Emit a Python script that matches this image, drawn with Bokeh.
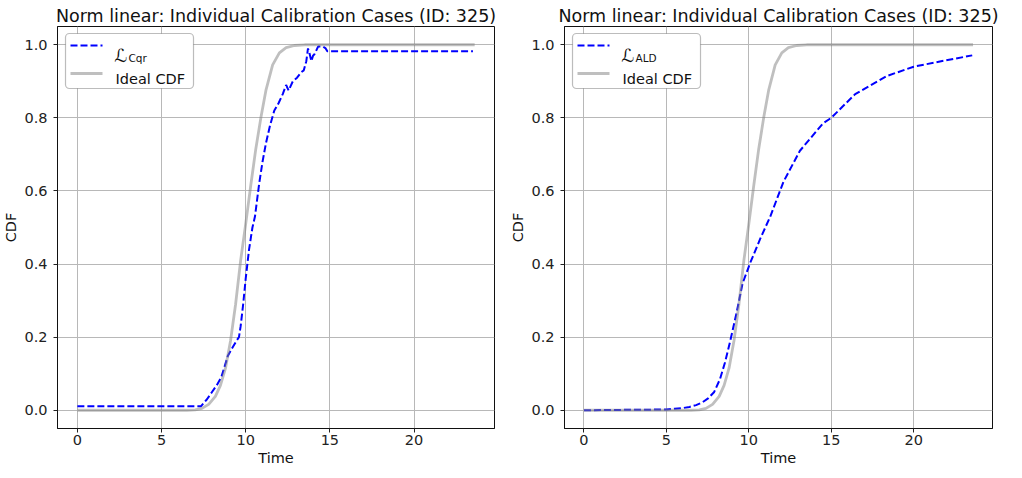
from bokeh.plotting import figure
from bokeh.layouts import row
from bokeh.models import (Range1d, FixedTicker, PrintfTickFormatter, BoxAnnotation,
                          Arrow, Label)
from bokeh.embed import file_html
from bokeh.resources import INLINE

# ---------------- data ----------------
ideal_time = [0.0, 6.5, 7.0, 7.4, 7.8, 8.2, 8.5, 8.8, 9.1, 9.4, 9.7, 10.0, 10.3,
              10.6, 10.9, 11.2, 11.6, 12.0, 12.4, 12.9, 13.5, 23.6]
ideal_cdf = [0.0, 0.0, 0.001, 0.005, 0.016, 0.038, 0.068, 0.115, 0.19, 0.29, 0.41,
             0.51, 0.615, 0.715, 0.80, 0.875, 0.945, 0.978, 0.992, 0.998, 1.0, 1.0]

cqr_time = [0.0, 7.35, 7.7, 8.0, 8.3, 8.55, 8.75, 8.95, 9.2, 9.45, 9.6, 9.7, 9.85,
            10.0, 10.2, 10.4, 10.55, 10.8, 11.0, 11.2, 11.45, 11.7, 11.95, 12.2,
            12.4, 12.55, 12.8, 13.05, 13.3, 13.45, 13.6, 13.7, 13.8, 13.9, 14.0,
            14.1, 14.3, 14.6, 14.75, 14.85, 23.5]
cqr_cdf = [0.011, 0.011, 0.03, 0.05, 0.07, 0.09, 0.12, 0.15, 0.17, 0.19, 0.2, 0.23,
           0.29, 0.36, 0.44, 0.5, 0.53, 0.62, 0.68, 0.73, 0.78, 0.82, 0.84, 0.865,
           0.89, 0.875, 0.9, 0.91, 0.925, 0.93, 0.955, 0.99, 0.975, 0.955, 0.97,
           0.975, 0.995, 0.995, 0.99, 0.982, 0.982]

ald_time = [0.0, 5.0, 5.5, 6.0, 6.4, 6.8, 7.2, 7.55, 7.9, 8.25, 8.55, 8.85, 9.25,
            9.62, 10.1, 10.7, 11.3, 12.1, 13.1, 14.5, 15.0, 16.45, 18.4, 20.0,
            21.8, 23.55]
ald_cdf = [0.0, 0.002, 0.004, 0.006, 0.009, 0.014, 0.022, 0.033, 0.05, 0.085, 0.13,
           0.185, 0.265, 0.347, 0.405, 0.47, 0.53, 0.625, 0.71, 0.785, 0.80, 0.865,
           0.915, 0.94, 0.956, 0.971]

x_ticks = [0, 5, 10, 15, 20]
y_ticks = [0.0, 0.2, 0.4, 0.6, 0.8, 1.0]
title_text = "Norm linear: Individual Calibration Cases (ID: 325)"
sub_labels = ["Cqr", "ALD"]

FONT = "DejaVu Sans"
H = 470
T = 26
B = 42
FH = H - T - B
DASH = "7 3"


def make_panel(model_time, model_cdf, sub, w, bl, br):
    p = figure(width=w, height=H, output_backend="svg", toolbar_location=None,
               x_range=Range1d(-1.18, 24.78), y_range=Range1d(-0.05, 1.05),
               min_border_left=bl, min_border_right=br,
               min_border_top=T, min_border_bottom=B, title=title_text)
    p.title.text_font = FONT
    p.title.text_font_size = "17.5px"
    p.title.text_font_style = "normal"
    p.title.text_color = "#111111"
    p.title.align = "center"
    p.title.standoff = 2

    p.outline_line_color = "#111111"
    p.outline_line_width = 1
    p.background_fill_color = "white"
    p.border_fill_color = "white"

    for ax in (p.xaxis, p.yaxis):
        ax.axis_line_color = "#111111"
        ax.major_tick_line_color = "#222222"
        ax.major_tick_out = 4
        ax.major_tick_in = 0
        ax.minor_tick_line_color = None
        ax.major_label_text_font = FONT
        ax.major_label_text_font_size = "14.5px"
        ax.major_label_text_color = "#222222"
        ax.axis_label_text_font = FONT
        ax.axis_label_text_font_size = "14.5px"
        ax.axis_label_text_font_style = "normal"
        ax.axis_label_text_color = "#111111"

    p.xaxis.ticker = FixedTicker(ticks=x_ticks)
    p.xaxis.formatter = PrintfTickFormatter(format="%d")
    p.xaxis.axis_label = "Time"
    p.xaxis.major_label_standoff = 2
    p.xaxis.axis_label_standoff = 2
    p.yaxis.ticker = FixedTicker(ticks=y_ticks)
    p.yaxis.formatter = PrintfTickFormatter(format="%.1f")
    p.yaxis.axis_label = "CDF"
    p.yaxis.major_label_standoff = 6
    p.yaxis.axis_label_standoff = 2

    p.xgrid.ticker = FixedTicker(ticks=x_ticks)
    p.ygrid.ticker = FixedTicker(ticks=y_ticks)
    for g in (p.xgrid, p.ygrid):
        g.grid_line_color = "#b8b8b8"
        g.grid_line_width = 1

    p.line(model_time, model_cdf, line_color="blue", line_width=2,
           line_dash=DASH)
    p.line(ideal_time, ideal_cdf, line_color="gray", line_alpha=0.5,
           line_width=2.8)

    # legend (manual, to allow the subscripted script L)
    p.add_layout(BoxAnnotation(left=8, right=136, top=FH - 7, bottom=FH - 62,
                               left_units="screen", right_units="screen",
                               top_units="screen", bottom_units="screen",
                               fill_color="white", fill_alpha=1.0,
                               line_color="#222222", line_width=1.2,
                               border_radius=4, level="annotation"))
    p.add_layout(Arrow(x_start=13, y_start=FH - 19, x_end=45, y_end=FH - 19,
                       start_units="screen", end_units="screen", end=None,
                       line_color="blue", line_width=2, line_dash=DASH))
    p.add_layout(Arrow(x_start=13, y_start=FH - 47, x_end=45, y_end=FH - 47,
                       start_units="screen", end_units="screen", end=None,
                       line_color="gray", line_alpha=0.5, line_width=2.8))
    p.add_layout(Label(x=57, y=FH - 29, x_units="screen", y_units="screen",
                       text="ℒ", text_font=FONT, text_font_size="18px",
                       text_font_style="italic", text_color="#111111",
                       text_baseline="alphabetic"))
    p.add_layout(Label(x=71, y=FH - 31, x_units="screen", y_units="screen",
                       text=sub, text_font=FONT, text_font_size="10.5px",
                       text_color="#111111", text_baseline="alphabetic"))
    p.add_layout(Label(x=58, y=FH - 52, x_units="screen", y_units="screen",
                       text="Ideal CDF", text_font=FONT, text_font_size="14.5px",
                       text_color="#111111", text_baseline="alphabetic"))
    return p


left = make_panel(cqr_time, cqr_cdf, sub_labels[0], 506, 54, 12)
right = make_panel(ald_time, ald_cdf, sub_labels[1], 494, 58, 8)

layout = row(left, right)
open("out.html", "w").write(file_html(layout, INLINE))
